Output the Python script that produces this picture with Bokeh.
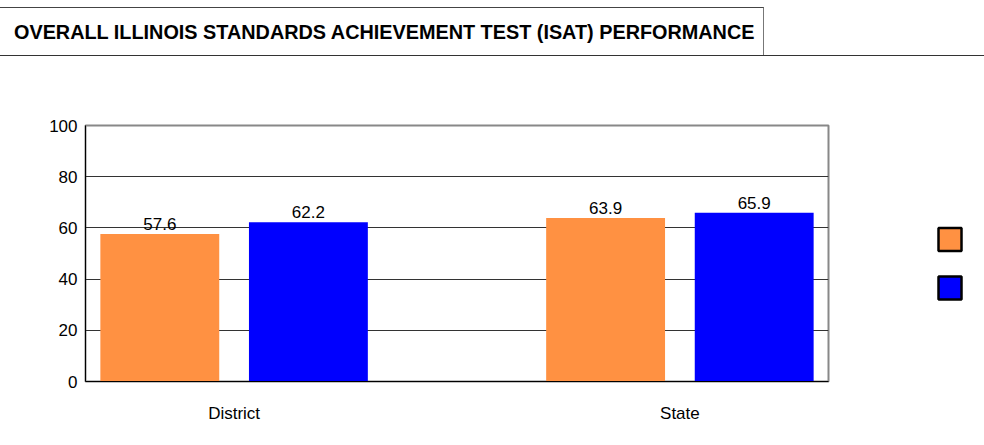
from bokeh.plotting import figure
from bokeh.models import FactorRange, ColumnDataSource, LabelSet, Div, Range1d, FixedTicker
from bokeh.core.properties import value
from bokeh.layouts import column, row
from bokeh.embed import file_html
from bokeh.resources import INLINE

title_text = "OVERALL ILLINOIS STANDARDS ACHIEVEMENT TEST (ISAT) PERFORMANCE"
categories = ["District", "State"]
series_keys = ["", " "]
series_1 = [57.6, 63.9]
series_2 = [62.2, 65.9]
series_colors = ["#FF9142", "#0000FF"]
y_ticks = [0, 20, 40, 60, 80, 100]

FONT = "Liberation Sans"
W = 984
H = 389
MAIN_W = 830

header = Div(
    width=W, height=56, margin=0,
    text=(
        f'<div style="position:relative;width:{W}px;height:56px;">'
        '<div style="position:absolute;left:0;top:7px;width:764px;height:49px;'
        'border-top:1px solid #444;border-right:1px solid #777;box-sizing:border-box;"></div>'
        f'<div style="position:absolute;left:0;top:55px;width:{W}px;height:1px;background:#333;"></div>'
        '<div style="position:absolute;left:14px;top:8px;height:47px;line-height:47px;white-space:nowrap;'
        'font-family:\'Liberation Sans\',Arial,sans-serif;transform:scaleX(0.944);transform-origin:0 50%;'
        'font-weight:bold;font-size:21px;color:#000;">' + title_text + '</div>'
        '</div>'
    ),
)

factors = [(c, s) for c in categories for s in series_keys]
vals = []
cols = []
for i in range(len(categories)):
    vals += [series_1[i], series_2[i]]
    cols += series_colors
src = ColumnDataSource(dict(x=factors, top=vals, color=cols, lbl=[f"{v:.1f}" for v in vals]))

p = figure(
    width=MAIN_W, height=H, margin=0,
    x_range=FactorRange(*factors, range_padding=0, group_padding=1.0, factor_padding=0),
    y_range=Range1d(0, 100),
    output_backend="svg", toolbar_location=None,
    min_border_left=85, min_border_right=2, min_border_top=69, min_border_bottom=64,
)
p.vbar(x="x", top="top", width=0.8, color="color", line_color=None, source=src)

p.add_layout(LabelSet(x="x", y="top", text="lbl", source=src, text_align="center",
                      text_baseline="bottom", y_offset=4, text_font=value(FONT),
                      text_font_size="17px", text_color="#000"))

p.outline_line_color = "#888"
p.outline_line_width = 2
p.xgrid.grid_line_color = None
p.ygrid.grid_line_color = "#333"
p.ygrid.grid_line_width = 1
p.yaxis.ticker = FixedTicker(ticks=y_ticks)
p.yaxis.major_tick_out = 0
p.yaxis.major_tick_in = 0
p.yaxis.minor_tick_line_color = None
p.yaxis.axis_line_color = "#000"
p.yaxis.major_label_text_font = FONT
p.yaxis.major_label_text_font_size = "17px"
p.yaxis.major_label_text_color = "#000"
p.yaxis.major_label_standoff = 8

p.xaxis.axis_line_color = "#000"
p.xaxis.major_tick_line_color = None
p.xaxis.minor_tick_line_color = None
p.xaxis.separator_line_alpha = 0
p.xaxis.major_label_text_font_size = "1px"
p.xaxis.major_label_standoff = 6
p.xaxis.group_text_font = FONT
p.xaxis.group_text_font_size = "17px"
p.xaxis.group_text_color = "#000"
p.xaxis.group_text_font_style = "normal"

# legend panel (swatches only, as in the reference); its frame aligns with the main frame
lg = figure(
    width=W - MAIN_W, height=H, margin=0,
    x_range=Range1d(0, 1), y_range=Range1d(0, 1),
    output_backend="svg", toolbar_location=None,
    min_border=0, min_border_left=0, min_border_right=0, min_border_top=0, min_border_bottom=0,
)
lg.axis.visible = False
lg.grid.visible = False
lg.outline_line_color = None
lg.rect(x=[0.776, 0.776], y=[0.5547, 0.3652], width=23, height=23,
        width_units="screen", height_units="screen",
        fill_color=series_colors, line_color="#000", line_width=2.5)

layout = column(header, row(p, lg, spacing=0), spacing=0)
open("out.html", "w").write(file_html(layout, INLINE))
